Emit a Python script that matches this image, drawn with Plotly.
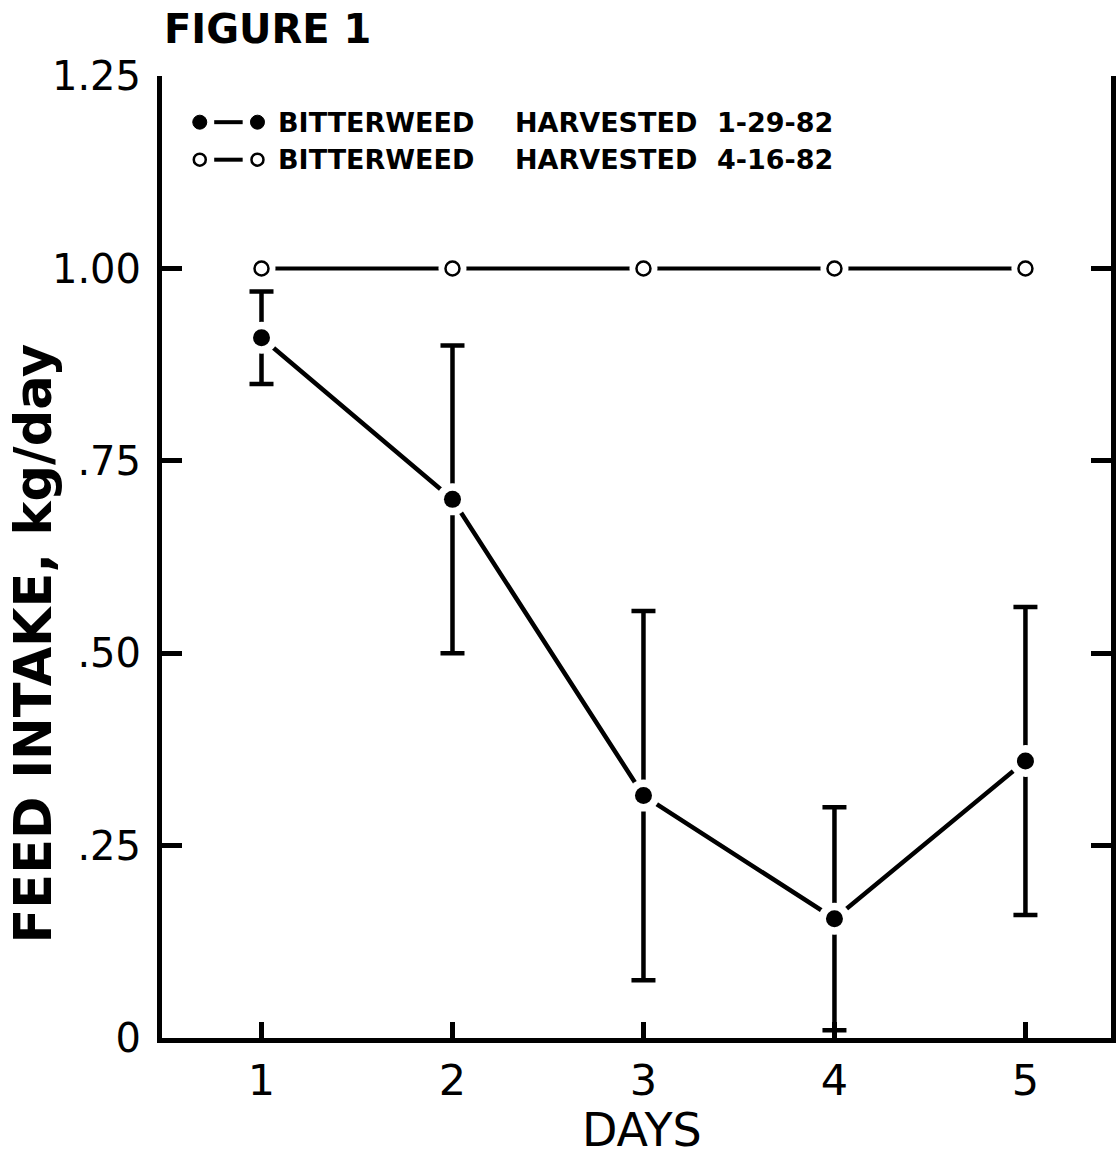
import plotly.graph_objects as go

# Feed intake per day for the two bitterweed harvests
days = [1, 2, 3, 4, 5]
intake_jan = [0.91, 0.70, 0.315, 0.155, 0.36]   # harvested 1-29-82 (mean)
err_jan = [0.06, 0.20, 0.24, 0.145, 0.20]       # error bar half-length
intake_apr = [1.00, 1.00, 1.00, 1.00, 1.00]     # harvested 4-16-82

y_tickvals = [0, 0.25, 0.50, 0.75, 1.00, 1.25]
y_ticktext = ["0", ".25", ".50", ".75", "1.00", "1.25"]
x_ticktext = ["1", "2", "3", "4", "5"]

legend_rows = [
    ("BITTERWEED", "HARVESTED", "1-29-82", "filled"),
    ("BITTERWEED", "HARVESTED", "4-16-82", "open"),
]

INK = "black"
PAPER = "white"
FONT = "DejaVu Sans"

fig = go.Figure()

# --- 4-16-82 series ---
# line + white halo markers in one trace: the halo is drawn over the line
# and leaves the small gap around each open circle
fig.add_trace(go.Scatter(x=days, y=intake_apr, mode="lines+markers",
                         line=dict(color=INK, width=4),
                         marker=dict(size=28, color=PAPER),
                         hoverinfo="skip"))
fig.add_trace(go.Scatter(x=days, y=intake_apr, mode="markers",
                         marker=dict(symbol="circle-open", size=14, color=INK,
                                     line=dict(width=2.5, color=INK))))

# --- 1-29-82 series ---
# error bars, line and white halo in one trace, then the solid dots on top
fig.add_trace(go.Scatter(x=days, y=intake_jan, mode="lines+markers",
                         line=dict(color=INK, width=4.5),
                         marker=dict(size=32, color=PAPER),
                         error_y=dict(type="data", array=err_jan, visible=True,
                                      color=INK, thickness=4.5, width=12),
                         hoverinfo="skip"))
fig.add_trace(go.Scatter(x=days, y=intake_jan, mode="markers",
                         marker=dict(size=17, color=INK)))

annotations = []
shapes = []

# Hand-drawn style key in the upper left of the plot
row_y = [0.952, 0.913]
for (w1, w2, w3, kind), yy in zip(legend_rows, row_y):
    shapes.append(dict(type="line", xref="paper", yref="paper",
                       x0=0.055, x1=0.085, y0=yy, y1=yy,
                       line=dict(color=INK, width=4)))
    for xc in (0.0398, 0.1006):
        if kind == "filled":
            shapes.append(dict(type="circle", xref="paper", yref="paper",
                               xsizemode="pixel", ysizemode="pixel",
                               xanchor=xc, yanchor=yy,
                               x0=-7, x1=7, y0=-7, y1=7,
                               fillcolor=INK, line=dict(color=INK, width=1)))
        else:
            shapes.append(dict(type="circle", xref="paper", yref="paper",
                               xsizemode="pixel", ysizemode="pixel",
                               xanchor=xc, yanchor=yy,
                               x0=-6, x1=6, y0=-6, y1=6,
                               fillcolor=PAPER, line=dict(color=INK, width=2.5)))
    for word, xw in zip((w1, w2, w3), (0.1205, 0.370, 0.583)):
        annotations.append(dict(text=word, xref="paper", yref="paper",
                                x=xw, y=yy, xanchor="left", yanchor="middle",
                                showarrow=False,
                                font=dict(family=FONT, size=27, color=INK,
                                          weight="bold")))

annotations.append(dict(text="FIGURE 1", xref="paper", yref="paper",
                        x=0.0, y=1.049, xanchor="left", yanchor="middle",
                        showarrow=False,
                        font=dict(family=FONT, size=40, color=INK, weight="bold")))
annotations.append(dict(text="FEED INTAKE, kg/day", xref="paper", yref="paper",
                        x=-0.135, y=0.41, xanchor="center", yanchor="middle",
                        textangle=-90, showarrow=False,
                        font=dict(family=FONT, size=51, color=INK, weight="bold")))
annotations.append(dict(text="DAYS", xref="paper", yref="paper",
                        x=0.506, y=-0.0956, xanchor="center", yanchor="middle",
                        showarrow=False,
                        font=dict(family=FONT, size=46, color=INK)))

fig.update_layout(
    width=1120, height=1157,
    margin=dict(l=162, r=4, t=76, b=119),
    paper_bgcolor=PAPER, plot_bgcolor=PAPER,
    showlegend=False,
    annotations=annotations,
    shapes=shapes,
    xaxis=dict(range=[0.479, 5.448], tickvals=days, ticktext=x_ticktext,
               showline=True, linewidth=5, linecolor=INK, mirror=False,
               ticks="inside", ticklen=16, tickwidth=5, tickcolor=INK,
               ticklabelstandoff=0,
               showgrid=False, zeroline=False,
               tickfont=dict(family=FONT, size=43, color=INK)),
    yaxis=dict(range=[0, 1.2502], tickvals=y_tickvals, ticktext=y_ticktext,
               showline=True, linewidth=5, linecolor=INK, mirror="ticks",
               ticks="inside", ticklen=20, tickwidth=5, tickcolor=INK,
               ticklabelstandoff=8,
               showgrid=False, zeroline=False,
               tickfont=dict(family=FONT, size=40, color=INK)),
)

fig.write_html("out.html")
